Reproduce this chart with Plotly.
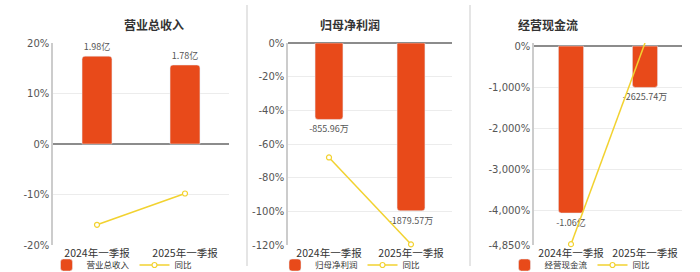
import plotly.graph_objects as go

categories = ["2024年一季报", "2025年一季报"]

titles = ["营业总收入", "归母净利润", "经营现金流"]

revenue_yi = [1.98, 1.78]
revenue_labels = ["1.98亿", "1.78亿"]
revenue_yoy = [-16.0, -9.8]

profit_wan = [-855.96, -1879.57]
profit_labels = ["-855.96万", "-1879.57万"]
profit_yoy = [-68.0, -119.6]

cash_wan = [-10600.0, -2625.74]
cash_labels = ["-1.06亿", "-2625.74万"]
cash_yoy = [-4830.0, 75.2]

p1_ticks = [20, 10, 0, -10, -20]
p1_ticktext = ["20%", "10%", "0%", "-10%", "-20%"]
p2_ticks = [0, -20, -40, -60, -80, -100, -120]
p2_ticktext = ["0%", "-20%", "-40%", "-60%", "-80%", "-100%", "-120%"]
p3_ticks = [0, -1000, -2000, -3000, -4000, -4850]
p3_ticktext = ["0%", "-1,000%", "-2,000%", "-3,000%", "-4,000%", "-4,850%"]

BAR = "#E84A1A"
LINE = "#F2D230"
FONT = "DejaVu Sans, Noto Sans CJK SC, sans-serif"
CJK = "Noto Sans CJK SC, sans-serif"

W, H = 700, 272

def px_x(a, b):
    return [a / W, b / W]

TOP, BOT = 43, 245
ydom = [1 - BOT / H, 1 - TOP / H]

panels = [
    dict(bars=revenue_yi, labels=revenue_labels, yoy=revenue_yoy, name=titles[0],
         xd=px_x(53, 229), pr=[-20, 20], br=[-2.276, 2.276], tv=p1_ticks, tt=p1_ticktext, cx=122),
    dict(bars=profit_wan, labels=profit_labels, yoy=profit_yoy, name=titles[1],
         xd=px_x(288, 452), pr=[-120, 0], br=[-2262, 0], tv=p2_ticks, tt=p2_ticktext, cx=350),
    dict(bars=cash_wan, labels=cash_labels, yoy=cash_yoy, name=titles[2],
         xd=px_x(534, 682), pr=[-4850, 75], br=[-12630, 195], tv=p3_ticks, tt=p3_ticktext, cx=580),
]

fig = go.Figure()
layout = dict(
    width=W, height=H, margin=dict(l=0, r=0, t=0, b=0, autoexpand=False),
    paper_bgcolor="white", plot_bgcolor="white", showlegend=True,
    bargap=0.66, font=dict(family=FONT, color="#333"),
    annotations=[], shapes=[],
)

for i, p in enumerate(panels):
    n = i + 1
    xa = "x" if n == 1 else f"x{n}"
    yb = f"y{2*n-1}" if 2 * n - 1 > 1 else "y"
    yp = f"y{2*n}"
    leg = "legend" if n == 1 else f"legend{n}"
    fig.add_trace(go.Bar(
        x=categories, y=p["bars"], text=p["labels"], textposition="outside",
        constraintext="none",
        textfont=dict(size=9, color="#555", family=CJK), cliponaxis=False,
        marker=dict(color=BAR, cornerradius=3), name=p["name"],
        xaxis=xa, yaxis=yb, legend=leg, hoverinfo="skip"))
    fig.add_trace(go.Scatter(
        x=categories, y=p["yoy"], mode="lines+markers", name="同比",
        line=dict(color=LINE, width=1.5),
        marker=dict(symbol="circle", size=5, color="white", line=dict(color=LINE, width=1.2)),
        xaxis=xa, yaxis=yp, legend=leg, cliponaxis=False, hoverinfo="skip"))

    xkey = "xaxis" if n == 1 else f"xaxis{n}"
    ybkey = "yaxis" if n == 1 else f"yaxis{2*n-1}"
    ypkey = f"yaxis{2*n}"
    layout[xkey] = dict(domain=p["xd"], anchor=yb, type="category", automargin=False,
                        showgrid=False, showline=False, zeroline=False, ticks="", tickangle=0,
                        tickfont=dict(size=10.5, color="#333", family=CJK), ticklabelstandoff=0)
    layout[ybkey] = dict(domain=ydom, anchor=xa, range=p["br"], showgrid=False, automargin=False,
                         zeroline=False, showticklabels=False, showline=False, ticks="")
    layout[ypkey] = dict(overlaying=yb, anchor=xa, side="left", range=p["pr"], automargin=False,
                         tickvals=p["tv"], ticktext=p["tt"], showgrid=True, gridcolor="#ececec",
                         gridwidth=1, zeroline=True, zerolinecolor="#8c8c8c", zerolinewidth=1.5,
                         showline=True, linecolor="#cccccc", linewidth=1.5, ticks="",
                         tickfont=dict(size=10, color="#555", family=FONT))
    layout[leg] = dict(orientation="h", x=p["cx"] / W, xanchor="center", y=1 - 265 / H,
                       yanchor="middle", font=dict(size=8.5, color="#333", family=CJK),
                       itemwidth=30, tracegroupgap=0, bgcolor="rgba(0,0,0,0)")
    layout["annotations"].append(dict(
        text=f"<b>{titles[i]}</b>", x=p["cx"] / W, y=1 - 14 / H, xref="paper", yref="paper",
        showarrow=False, font=dict(size=12, color="#333", family=CJK)))

for xs in [247, 470]:
    layout["shapes"].append(dict(type="line", xref="paper", yref="paper",
                                 x0=xs / W, x1=xs / W, y0=1 - 266 / H, y1=1 - 5 / H,
                                 line=dict(color="#dddddd", width=1.5)))

fig.update_layout(**layout)
fig.write_html("out.html")
